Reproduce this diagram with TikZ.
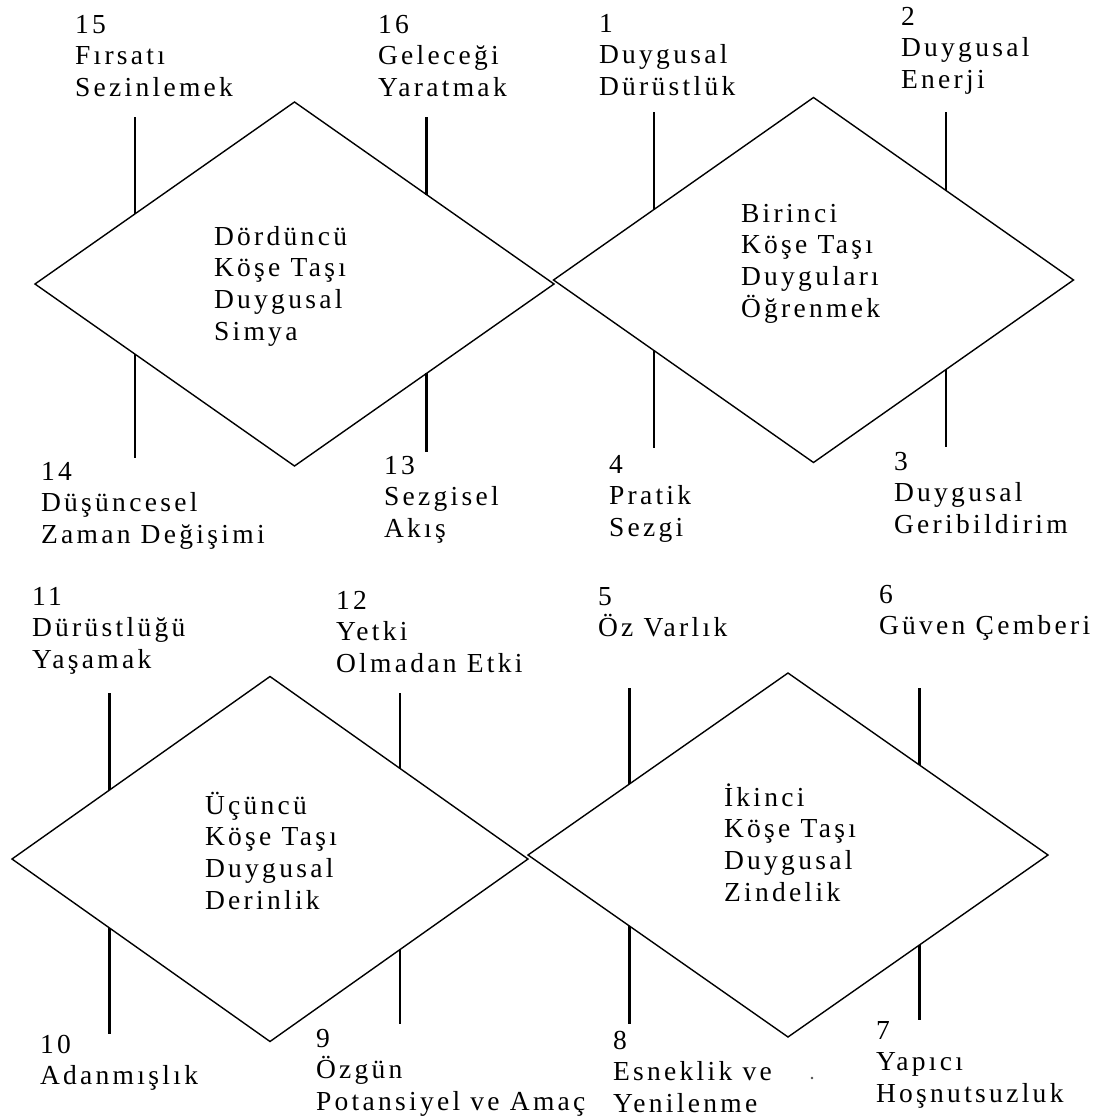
\documentclass[tikz,border=0pt]{standalone}
\usepackage{fontspec}
\setmainfont[LetterSpace=12]{Liberation Serif}
\usetikzlibrary{shapes.geometric}
\begin{document}
\begin{tikzpicture}[x=1pt,y=-1pt,
  dia/.style={draw, diamond, line width=1.4pt, inner sep=0pt, outer sep=0pt},
  vbar/.style={line width=2.3pt},
  lbl/.style={anchor=base west, align=left, inner sep=0pt, outer sep=0pt,
    font=\fontsize{27.5}{31.7}\selectfont}]
\useasboundingbox (0,0) rectangle (1113,1120);
% base anchor of a multi-line node = baseline of its LAST line
\def\ls{31.7}

% diamonds
\node[dia, minimum width=519pt, minimum height=364pt] (dTL) at (294.5,284) {};
\node[dia, minimum width=520pt, minimum height=365pt] (dTR) at (813.5,280) {};
\node[dia, minimum width=516pt, minimum height=365pt] (dBL) at (270,859) {};
\node[dia, minimum width=520pt, minimum height=364pt] (dBR) at (788,855) {};

% inner texts (first baseline + 3 lines)
\node[lbl] (tTL) at (214,{245+3*\ls}) {Dördüncü\\Köşe Taşı\\Duygusal\\Simya};
\node[lbl] (tTR) at (741,{222+3*\ls}) {Birinci\\Köşe Taşı\\Duyguları\\Öğrenmek};
\node[lbl] (tBL) at (205,{814+3*\ls}) {Üçüncü\\Köşe Taşı\\Duygusal\\Derinlik};
\node[lbl] (tBR) at (724,{806+3*\ls}) {İkinci\\Köşe Taşı\\Duygusal\\Zindelik};

% outer labels
\node[lbl] (l15) at (75,{33+2*\ls})   {15\\Fırsatı\\Sezinlemek};
\node[lbl] (l16) at (378,{33+2*\ls})  {16\\Geleceği\\Yaratmak};
\node[lbl] (l1)  at (599,{32+2*\ls})  {1\\Duygusal\\Dürüstlük};
\node[lbl] (l2)  at (901,{25+2*\ls})  {2\\Duygusal\\Enerji};
\node[lbl] (l14) at (41,{480+2*\ls})  {14\\Düşüncesel\\Zaman Değişimi};
\node[lbl] (l13) at (384,{474+2*\ls}) {13\\Sezgisel\\Akış};
\node[lbl] (l4)  at (609,{473+2*\ls}) {4\\Pratik\\Sezgi};
\node[lbl] (l3)  at (894,{470+2*\ls}) {3\\Duygusal\\Geribildirim};
\node[lbl] (l11) at (32,{605+2*\ls})  {11\\Dürüstlüğü\\Yaşamak};
\node[lbl] (l12) at (336,{609+2*\ls}) {12\\Yetki\\Olmadan Etki};
\node[lbl] (l5)  at (598,{605+\ls})   {5\\Öz Varlık};
\node[lbl] (l6)  at (879,{603+\ls})   {6\\Güven Çemberi};
\node[lbl] (l10) at (40,{1053+\ls})   {10\\Adanmışlık};
\node[lbl] (l9)  at (316,{1047+2*\ls}) {9\\Özgün\\Potansiyel ve Amaç};
\node[lbl] (l8)  at (613,{1049+2*\ls}) {8\\Esneklik ve\\Yenilenme};
\node[lbl] (l7)  at (876,{1039+2*\ls}) {7\\Yapıcı\\Hoşnutsuzluk};

% bar end points
\coordinate (a15) at (135,117);   \coordinate (b15) at (135,214);
\coordinate (a16) at (426.5,117); \coordinate (b16) at (426.5,194.6);
\coordinate (a14) at (135,354);   \coordinate (b14) at (135,458);
\coordinate (a13) at (426.5,373.4); \coordinate (b13) at (426.5,452);
\coordinate (a1) at (654.3,112);  \coordinate (b1) at (654.3,209.5);
\coordinate (a2) at (945.7,112);  \coordinate (b2) at (945.7,190);
\coordinate (a4) at (654.3,350.5); \coordinate (b4) at (654.3,448);
\coordinate (a3) at (945.7,370);  \coordinate (b3) at (945.7,447);
\coordinate (a11) at (109.6,693); \coordinate (b11) at (109.6,790);
\coordinate (a12) at (400,693);   \coordinate (b12) at (400,768.5);
\coordinate (a10) at (109.6,928); \coordinate (b10) at (109.6,1034);
\coordinate (a9) at (400,949.5);  \coordinate (b9) at (400,1024);
\coordinate (a5) at (629.4,688);  \coordinate (b5) at (629.4,784);
\coordinate (a6) at (919.6,688);  \coordinate (b6) at (919.6,765);
\coordinate (a8) at (629.4,926);  \coordinate (b8) at (629.4,1024);
\coordinate (a7) at (919.6,945);  \coordinate (b7) at (919.6,1020);

\foreach \k in {15,16,14,13,1,2,4,3,11,12,10,9,5,6,8,7}
  \draw[vbar] (a\k) -- (b\k);

\fill[black!70] (812,1078) circle (1.3pt);
\end{tikzpicture}
\end{document}
